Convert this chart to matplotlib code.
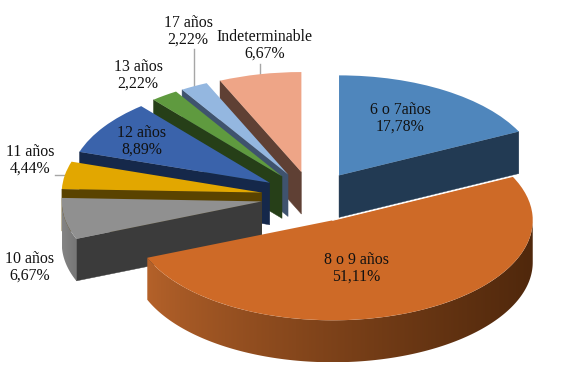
import numpy as np
import matplotlib
matplotlib.use("Agg")
import matplotlib.pyplot as plt
from matplotlib.colors import to_rgb
from matplotlib.patches import Polygon

W, H = 566, 388

# ---- data ----
categories = ["6 o 7años", "8 o 9 años", "10 años", "11 años", "12 años",
              "13 años", "17 años", "Indeterminable"]
values = [17.78, 51.11, 6.67, 4.44, 8.89, 2.22, 2.22, 6.67]
value_labels = ["17,78%", "51,11%", "6,67%", "4,44%", "8,89%", "2,22%", "2,22%", "6,67%"]

# ---- style ----
top_colors = ["#4F86BC", "#CE6A27", "#909090", "#E2A700", "#3A63AB", "#5F9A3F", "#94B7E0", "#EEA587"]
side_colors = ["#223A53", "#5A2E10", "#3B3B3B", "#5A4300", "#15284A", "#263F18", "#3F536E", "#5F4034"]
rim_left = {1: "#B5622A", 2: "#858585"}
rim_right = {1: "#50280C", 2: "#777777"}
label_px = [(400, 118), (356, 268), (30, 267), (30, 160), (142, 141), (138, 75), (188, 31), (265, 45)]
leaders_px = [((194, 49), (194, 86)), ((260, 64), (260, 74)), ((55, 175), (65, 175))]
paint_order = [7, 6, 5, 4, 3, 2, 0, 1]
EXPLODE = 0.255
DEPTH = 0.42
CX, CY, RX, RY = 312, 197, 200, 100

fig = plt.figure(figsize=(W / 100, H / 100), dpi=100, facecolor="white")
ax = fig.add_axes([0, 0, 1, 1])
wedges, _ = ax.pie(values, explode=[EXPLODE] * len(values), startangle=90,
                   counterclock=False, radius=1, colors=top_colors,
                   wedgeprops={"linewidth": 0})


def to_data(p):
    return ((p[0] - CX) / RX, (CY - p[1]) / RY)


total = sum(values)
edges = np.concatenate([[0], np.cumsum(values)]) / total * 2 * np.pi
z = 2
for i in paint_order:
    a0, a1 = edges[i], edges[i + 1]
    mid = (a0 + a1) / 2
    ox, oy = EXPLODE * np.sin(mid), EXPLODE * np.cos(mid)

    def pt(a):
        return ox + np.sin(a), oy + np.cos(a)

    # radial cut faces that point towards the viewer
    for a, visible in ((a0, a0 > np.pi), (a1, a1 < np.pi)):
        if visible:
            px, py = pt(a)
            ax.add_patch(Polygon([(ox, oy), (px, py), (px, py - DEPTH), (ox, oy - DEPTH)],
                                 closed=True, fc=side_colors[i], ec=side_colors[i], lw=0.3, zorder=z))
            z += 1
    # outer rim on the near half of the pie, shaded left to right
    if a0 < 3 * np.pi / 2 and a1 > np.pi / 2:
        ts = np.linspace(max(a0, np.pi / 2), a1, 200)
        top = np.column_stack([ox + np.sin(ts), oy + np.cos(ts)])
        rim = np.vstack([top, (top - [0, DEPTH])[::-1]])
        clip = Polygon(rim, closed=True, transform=ax.transData, fc="none", ec="none")
        ax.add_patch(clip)
        cl = np.array(to_rgb(rim_left.get(i, side_colors[i])))
        cr = np.array(to_rgb(rim_right.get(i, side_colors[i])))
        grad = (np.linspace(0, 1, 256) ** 0.8)[None, :, None]
        rgb = cl[None, None, :] + (cr - cl)[None, None, :] * grad
        im = ax.imshow(rgb, extent=(rim[:, 0].min(), rim[:, 0].max(), rim[:, 1].min(), rim[:, 1].max()),
                       aspect="auto", zorder=z, interpolation="bilinear")
        im.set_clip_path(clip)
        z += 1
    wedges[i].set_zorder(z)
    z += 1

# thin light seam along the straight edge of the large slice
a = edges[1]
mid = (edges[1] + edges[2]) / 2
ox, oy = EXPLODE * np.sin(mid), EXPLODE * np.cos(mid)
ax.plot([ox, ox + np.sin(a)], [oy, oy + np.cos(a)], color="white", lw=0.7, zorder=z)
z += 1

for p0, p1 in leaders_px:
    d0, d1 = to_data(p0), to_data(p1)
    ax.plot([d0[0], d1[0]], [d0[1], d1[1]], color="#A6A6A6", lw=1.0, zorder=1)

for name, val, p in zip(categories, value_labels, label_px):
    x, y = to_data(p)
    ax.text(x, y, f"{name}\n{val}", ha="center", va="center", multialignment="center",
            family="Liberation Serif", fontsize=11.4, color="#111111", linespacing=1.05, zorder=z)

ax.set_aspect("auto")
ax.set_xlim(-CX / RX, (W - CX) / RX)
ax.set_ylim((CY - H) / RY, CY / RY)

fig.savefig("out.png", dpi=100, facecolor="white")
